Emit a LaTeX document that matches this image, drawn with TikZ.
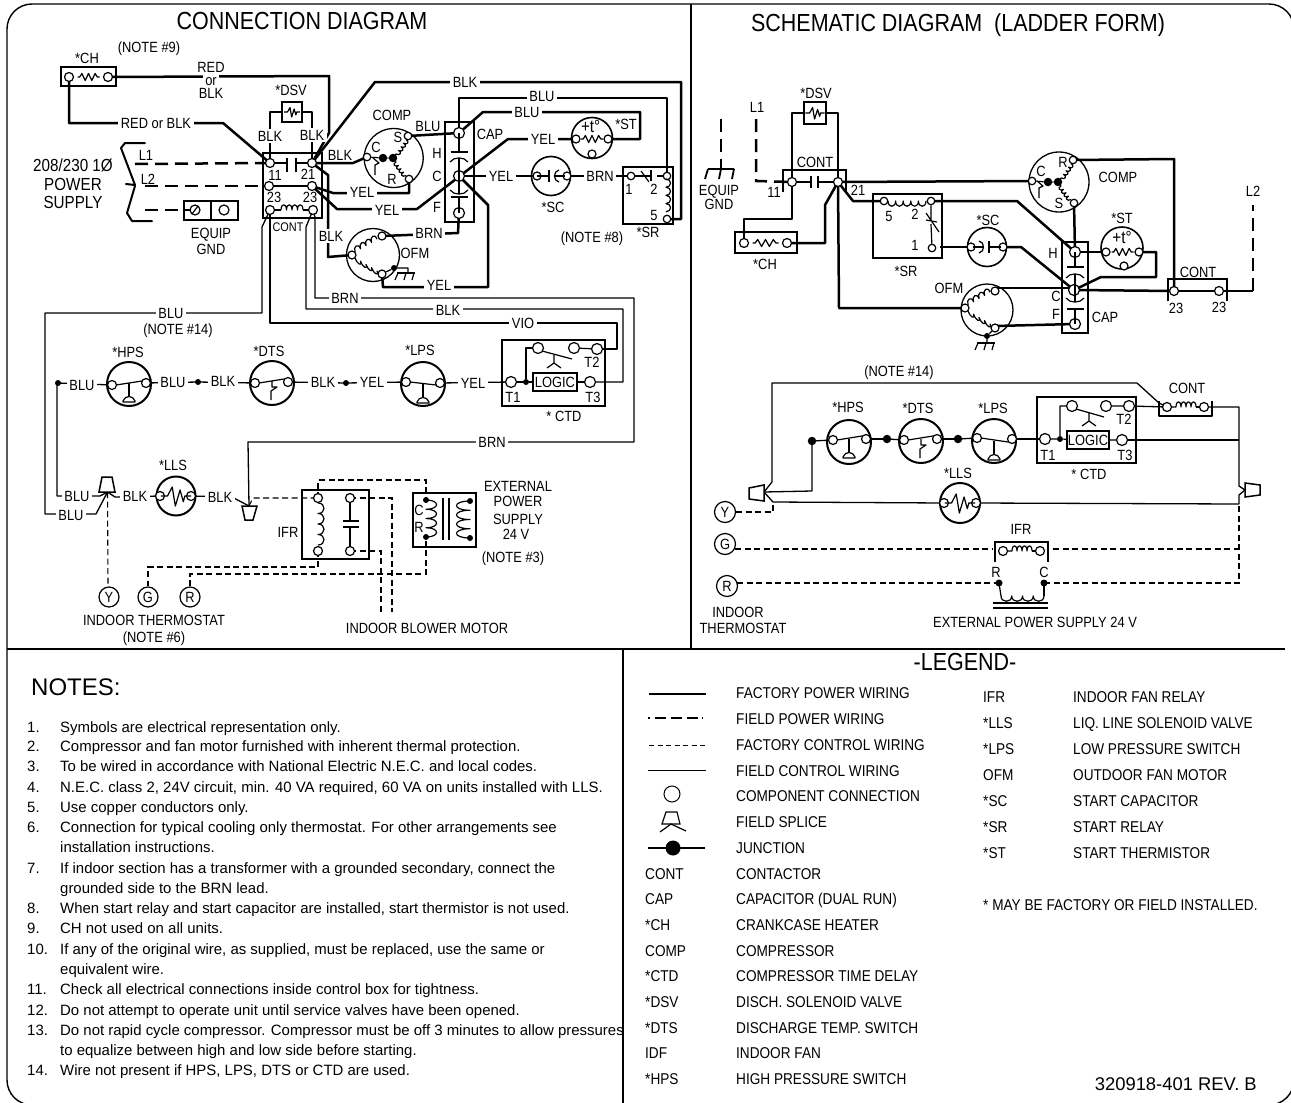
\documentclass[tikz,border=0pt]{standalone}
\usepackage{fontspec}
\setmainfont{Liberation Sans}[FakeStretch=0.87]
\newfontfamily\plainf{Liberation Sans}
\pgfdeclarelayer{wires}
\pgfsetlayers{wires,main}
\newcount\tncount
\newcommand\szf[1]{\fontsize{#1}{#1}\selectfont}
\tikzset{
 pw/.style={line width=2.5pt,line join=round},
 fp/.style={line width=2.5pt,dash pattern=on 13pt off 7pt},
 tw/.style={line width=1.3pt,line join=round},
 cd/.style={line width=1.1pt,dash pattern=on 6pt off 3.5pt},
 sym/.style={line width=1.2pt,line join=round},
 box/.style={line width=2pt},
 tbase/.style={inner sep=0pt,font=\szf{14.8},text height=10.5pt,text depth=0pt,align=center},
 wlb/.style={tbase,fill=white,inner xsep=2.5pt,inner ysep=1.5pt},
 lgd/.style={inner sep=0pt,font=\szf{15.65},text height=11pt,text depth=0pt,anchor=west},
 nte/.style={inner sep=0pt,font=\plainf\szf{14.95},text height=11pt,text depth=0pt,anchor=west},
 term/.style={circle,draw,fill=white,inner sep=0pt,minimum size=9pt,line width=1.2pt},
 bterm/.style={term,minimum size=11pt},
 sterm/.style={term,minimum size=7pt},
 jct/.style={circle,fill=black,inner sep=0pt,minimum size=6pt},
 bjct/.style={circle,fill=black,inner sep=0pt,minimum size=8.5pt},
 dial/.style={circle,draw,inner sep=0pt,line width=2pt},
 tstat/.style={circle,draw,inner sep=0pt,minimum size=20pt,line width=1.2pt,font=\szf{14.8},text height=10.5pt,text depth=0pt},
 splice/.style={draw,fill=white,line width=1.5pt},
 zz/.pic={\draw[sym] (-10,0)--(-8,0)--(-6,-3.5)--(-3,3.5)--(0,-3.5)--(3,3.5)--(6,-3.5)--(8,0)--(10,0);},
 pulse/.pic={\draw[sym] (-16,0)--(-9,0)--(-4,-9)--(-0.7,10)--(4.3,-6)--(7.7,5.7)--(9.3,0)--(16,0);},
 presssw/.pic={\draw[sym] (0,0)--(0,14);\draw[sym] (-6,19)--(6,19)--(6,18) .. controls (4,12) and (-4,12) .. (-6,18)--cycle;},
 tempsw/.pic={\draw[sym] (0,0)--(0,6)--(5,6)--(-1,10)--(-1,19);},
 scap/.pic={\draw[sym] (-14,0)--(-2,0);\draw[sym] (-2,-6)--(-2,6);\draw[sym] (8,-6) .. controls (2,-5) and (2,5) .. (8,6);\draw[sym] (3.5,0)--(14,0);},
 gnd/.pic={\draw[sym] (-9,0)--(9,0);\draw[sym] (-8,0)--(-11,7);\draw[sym] (0,0)--(-2,7);\draw[sym] (8,0)--(6,7);},
 thermo/.pic={\draw[sym] (0,0)--(6,5)--(2,7)--(2,17);},
}
\newcommand\tlab[2]{\global\advance\tncount by 1 \node[tbase] (t\the\tncount) at (#1) {#2};}
\newcommand\wlab[2]{\global\advance\tncount by 1 \node[wlb] (t\the\tncount) at (#1) {#2};}
\newcommand\llab[2]{\global\advance\tncount by 1 \node[lgd] (t\the\tncount) at (#1) {#2};}
\newcommand\bumps[3]{\foreach \bi in {1,...,#1} { .. controls +(#3) and +(#3) .. ++(#2) }}
\newcommand\dualcap[7]{%
 \draw[sym] (#1-8.5,#3)--(#1+8.5,#3);
 \draw[sym] (#1-9,#4+4) .. controls (#1-5,#4-1.5) and (#1+5,#4-1.5) .. (#1+9,#4+4);
 \draw[sym] (#1-9,#5-4) .. controls (#1-5,#5+1.5) and (#1+5,#5+1.5) .. (#1+9,#5-4);
 \draw[sym] (#1-8.5,#6)--(#1+8.5,#6);
 \draw[sym] (#1,#2)--(#1,#3);
 \draw[sym] (#1,#4)--(#1,#5);
 \draw[sym] (#1,#6)--(#1,#7);
}
\begin{document}
\begin{tikzpicture}[x=1pt,y=-1pt,line cap=butt]
\useasboundingbox (0,0) rectangle (1291,1103);
% ----- frame
\draw[line width=1.4pt,rounded corners=25pt] (7,4) rectangle (1294,1105);
\draw[line width=1.4pt] (691,4)--(691,649);
\draw[line width=1.4pt] (7,649)--(1285,649);
\draw[line width=1.4pt] (623,649)--(623,1104);
\global\advance\tncount by 1 \node[inner sep=0pt,font=\szf{24.7}] (t\the\tncount) at (302,21) {CONNECTION DIAGRAM};
\global\advance\tncount by 1 \node[inner sep=0pt,font=\szf{24.7}] (t\the\tncount) at (958,25) {SCHEMATIC DIAGRAM\ \ (LADDER FORM)};

% ===== CONNECTION DIAGRAM: terminals
\node[term] (chA) at (69,77) {};
\node[term] (chB) at (108,77) {};
\draw[box] (61,67) rectangle (116,86);
\pic[xscale=1.1] at (88.5,77) {zz};
\node[term] (c11) at (270,163) {};
\node[term] (c21) at (312,163) {};
\node[term] (c23L) at (269,186) {};
\node[term] (c23R) at (312,186) {};
\node[term] (cA) at (270,210) {};
\node[term] (cB) at (313,210) {};
\draw[box] (263,153) rectangle (322,218);
\node[draw,line width=1.6pt,minimum size=20pt,inner sep=0pt] (dsv) at (292,112) {};
\pic[scale=.5] at (292,112) {pulse};
\node[term,minimum size=10pt] (eg1) at (195,210) {};
\node[term,minimum size=10pt] (eg2) at (224,210) {};
\draw[sym] (192,214)--(198,206);
\draw[box] (184,201) rectangle (238,220);
\draw[sym] (211,201)--(211,220);
\coordinate (l1s) at (135,164);
\coordinate (l2s) at (145,186);
\coordinate (egs) at (145,210);

\node[dial,minimum size=59pt,line width=1.3pt] (comp) at (393.7,158) {};
\node[term,minimum size=7.5pt] (compS) at (408,136) {};
\node[term,minimum size=7.5pt] (compC) at (367,157) {};
\node[term,minimum size=7.5pt] (compR) at (409,179) {};
\node[bjct] (cd1) at (383,158) {};
\node[bjct] (cd2) at (393,158) {};
\draw[sym] (compC)--(cd1) (cd1)--(cd2);
\pic at (373,158) {thermo};
\draw[sym] (cd2.center)--(396,154) \bumps{4}{2.5,-3.6}{4,2} ;
\draw[sym] (cd2.center)--(396,162) \bumps{4}{2.5,3.4}{-4,2} ;

\node[bterm] (capH) at (459,133) {};
\node[bterm] (capC) at (459,176) {};
\node[bterm] (capF) at (459,213) {};
\draw[line width=1.6pt] (445,122) rectangle (474,222);
\dualcap{459}{133}{152}{158}{194}{197}{213}

\node[dial,minimum size=39pt,line width=1.6pt] (sc) at (551,176) {};
\node[term,minimum size=8pt] (scA) at (537,176) {};
\node[term,minimum size=8pt] (scB) at (567,176) {};
\pic at (551,176) {scap};

\node[dial,minimum size=41pt,line width=1.6pt] (st) at (592,138) {};
\node[term,minimum size=8pt] (stL) at (576,139) {};
\node[term,minimum size=8pt] (stR) at (608,139) {};
\node[term,minimum size=8pt] (stB) at (592,154) {};
\pic[xscale=1.1] at (592,139) {zz};

\node[term,minimum size=7.5pt] (sr1) at (631,176) {};
\node[term,minimum size=7.5pt] (sr2) at (667,176) {};
\node[term,minimum size=7.5pt] (sr5) at (667,219) {};
\draw[line width=1.6pt] (623,167) rectangle (673,224);
\draw[sym] (sr1)--(651,176) (657,176)--(sr2);
\draw[sym] (641,171)--(649,182);
\draw[sym] (651,170)--(651,181);
\draw[sym] (sr2) ++(-1,3) \bumps{4}{0,8.2}{6,0};

\node[dial,minimum size=53pt,line width=1.3pt] (ofm) at (373,255) {};
\node[term,minimum size=8pt] (ofmL) at (352,255) {};
\node[term,minimum size=8pt] (ofmT) at (382,236) {};
\node[term,minimum size=8pt] (ofmB) at (382,274) {};
\draw[sym] (ofmL.center) ++(3,-3) \bumps{4}{5.5,-3.2}{-2,-6};
\draw[sym] (ofmL.center) ++(3,3) \bumps{4}{5.5,3.2}{2,6};
\node[jct] (ofmD) at (394,268) {};
\draw[sym] (ofmB)--(ofmD) (ofmD)--(408,268)--(408,273);
\pic at (406,273) {gnd};

\node[dial,minimum size=44pt] (hps) at (129,384) {};
\node[term] (hpsL) at (112,385) {};
\node[term] (hpsR) at (146,383) {};
\draw[sym] (116,385)--(142,381);
\pic at (129,383) {presssw};
\node[dial,minimum size=44pt] (dts) at (272,383) {};
\node[term] (dtsL) at (255,383) {};
\node[term] (dtsR) at (288,382) {};
\draw[sym] (259,383)--(284,379);
\pic at (272,381) {tempsw};
\node[dial,minimum size=44pt] (lps) at (423,384) {};
\node[term] (lpsL) at (406,382) {};
\node[term] (lpsR) at (440,383) {};
\draw[sym] (410,382)--(436,385);
\pic at (423,384) {presssw};
\node[jct] (j1) at (58,383) {};
\node[jct] (j2) at (198,382) {};
\node[jct] (j3) at (346,383) {};

\draw[box] (502,340) rectangle (605,406);
\node[bterm] (t1) at (511,382) {};
\node[jct] (j4) at (526,382) {};
\node[draw,line width=1.2pt,minimum width=44pt,minimum height=18pt,inner sep=0pt,font=\szf{14.8}] (logic) at (555,382) {LOGIC};
\node[bterm] (t3) at (590,382) {};
\node[bterm] (ctc1) at (538,348) {};
\node[bterm] (ctc2) at (574,348) {};
\node[bterm] (t2) at (597,349) {};
\draw[sym] (t1)--(j4) (j4)--(logic) (logic)--(t3) (j4)--(526,348)--(ctc1);
\draw[sym] (ctc2)--(t2) (542,351)--(572,359);
\draw[sym] (554,355)--(554,363) (547,368)--(554,363)--(561,368);

\node[dial,minimum size=39pt] (lls) at (176,496) {};
\node[term] (llsL) at (160,496) {};
\node[term] (llsR) at (191,496) {};
\pic[xscale=.95] at (176,496) {pulse};

\draw[box] (302,490) rectangle (369,559);
\node[term] (ifC1) at (318,498) {};
\node[term] (ifC2) at (318,551) {};
\node[term] (ifK1) at (350,498) {};
\node[term] (ifK2) at (350,551) {};
\draw[sym] (318,503) \bumps{4}{0,10.5}{8,0};
\draw[sym] (ifK1)--(350,521) (343,521)--(359,521) (343,527)--(359,527) (350,527)--(ifK2);
\draw[box] (413,493) rectangle (476,547);
\node[jct] (tfC) at (426,500) {};
\node[jct] (tfR) at (426,537) {};
\node[jct] (tfA) at (470,501) {};
\node[jct] (tfB) at (470,538) {};
\draw[sym] (tfC.center) \bumps{4}{0,9.25}{14,0};
\draw[sym] (tfA.center) \bumps{4}{0,9.25}{-18,0};
\draw[sym] (443,498)--(443,540) (449,498)--(449,540);

\node[tstat] (y1) at (109,597) {Y};
\node[tstat] (g1) at (148,597) {G};
\node[tstat] (r1) at (190,597) {R};

\coordinate (sp1) at (107.5,492);
\coordinate (sp2) at (249,506);

% ===== CONNECTION wires (below the terminals)
\begin{pgfonlayer}{wires}
\draw[pw] (chA.center)--(69,123)--(223,123)--(c11.center);
\draw[pw] (chB.center)--(329,76)--(329,133)--(c21.center);
\draw[pw] (c11.center)|-(dsv.west);
\draw[pw] (c21.center)|-(dsv.east);
\draw[pw] (c21.center)--(375,82)--(681,82)--(681,219)--(sr5.center);
\draw[pw] (c21.center)--(353,163)--(compC.center);
\draw[pw] (c21.center)--(328,175)--(328,257)--(ofmL.center);
\draw[pw] (c23R.center)--(333,193)--(409,193)--(compR.center);
\draw[pw] (c23R.center)--(337,209)--(417,209)--(508,139)--(stL.center);
\draw[pw] (capH.center)--(459,98)--(667,98)--(sr2.center);
\draw[pw] (capH.center)--(483,112)--(640,112)--(640,139)--(stR.center);
\draw[pw] (compS.center)--(capH.center);
\draw[pw] (capC.center)--(scA.center);
\draw[pw] (scB.center)--(sr1.center);
\draw[pw] (capC.center)--(488,205)--(488,287)--(383,287)--(ofmB.center);
\draw[pw] (ofmT.center)--(458,233)--(capF.center);
\draw[fp] (l1s)--(c11.center);
\draw[fp] (l2s)--(c23L.center);
\draw[fp] (egs)--(eg1.center);
\draw[sym] (c23L.center)--(c23R.center);
\draw[sym] (c11.center)--(287,163) (287,158)--(287,172) (296,158)--(296,172) (296,163)--(c21.center);
\draw[sym] (cA.center)--(281,210);
\draw[sym] (281,210) \bumps{4}{5.5,0}{0,-7};
\draw[sym] (303,210)--(cB.center);
\draw[tw] (cA.center)--(262,227)--(262,313)--(45,313)--(45,514)--(96,514)--(sp1);
\draw[tw] (cA.center)--(270,222)--(270,323)--(617,323)--(617,349)--(t2.center);
\draw[tw] (cB.center)--(306,227)--(306,309)--(623,309)--(623,382)--(t3.center);
\draw[tw] (cB.center)--(315,217)--(315,298)--(634,298)--(634,442)--(248,442)--(sp2);
\draw[tw] (j1.center)--(57,383)--(57,496)--(100,496)--(sp1);
\draw[tw] (j1.center)--(hpsL.center);
\draw[tw] (hpsR.center)--(j2.center);
\draw[tw] (j2.center)--(dtsL.center);
\draw[tw] (dtsR.center)--(j3.center);
\draw[tw] (j3.center)--(lpsL.center);
\draw[tw] (lpsR.center)--(t1.center);
\draw[tw] (sp1)--(115,497)--(llsL.center);
\draw[tw] (llsR.center)--(232,497)--(sp2);
\draw[cd] (sp1)--(108,587);
\draw[cd] (sp2)--(253,498)--(ifC1.center);
\draw[cd] (ifC1.center)--(318,480)--(426,480)--(tfC.center);
\draw[cd] (ifK1.center)--(392,498)--(392,612);
\draw[cd] (ifK2.center)--(381,551)--(381,612);
\draw[cd] (ifC2.center)--(318,567)--(148,567)--(g1.north);
\draw[cd] (r1.north)--(190,574)--(426,574)--(tfR.center);
\end{pgfonlayer}
\draw[splice] (102,477)--(112,477)--(115,492)--(99,492)--cycle;
\draw[splice] (242,506)--(257,506)--(253,520)--(245,520)--cycle;
\draw[line width=2pt,line cap=round,line join=round] (145,143)--(125,143)--(121,148)--(135,185)--(126,184);
\draw[line width=2pt,line cap=round,line join=round] (135,186)--(127,213)--(132,221)--(152,221);

% ----- CONNECTION labels
\tlab{87,58}{*CH}
\tlab{149,47}{(NOTE \#9)}
\wlab{211,67}{RED}\wlab{211,80}{or}\wlab{211,93}{BLK}
\wlab{156,123}{RED or BLK}
\tlab{291,90}{*DSV}
\wlab{270,136}{BLK}\wlab{312,135}{BLK}
\tlab{146,155}{L1}\tlab{148,179}{L2}
\global\advance\tncount by 1 \node[inner sep=0pt,font=\szf{17.5}] (t\the\tncount) at (73,165) {208/230 1Ø};
\global\advance\tncount by 1 \node[inner sep=0pt,font=\szf{17.5}] (t\the\tncount) at (73,184) {POWER};
\global\advance\tncount by 1 \node[inner sep=0pt,font=\szf{17.5}] (t\the\tncount) at (73,202) {SUPPLY};
\tlab{211,233}{EQUIP}\tlab{211,249}{GND}
\tlab{275,175}{11}\tlab{308,174}{21}\tlab{274,197}{23}\tlab{310,197}{23}
\global\advance\tncount by 1 \node[tbase,font=\szf{12.5},text height=9pt] (t\the\tncount) at (288,227) {CONT};
\tlab{340,155}{BLK}
\wlab{362,192}{YEL}\wlab{387,210}{YEL}
\wlab{465,82}{BLK}\wlab{542,96}{BLU}\wlab{527,112}{BLU}
\tlab{392,115}{COMP}\tlab{398,137}{S}\tlab{376,147}{C}\tlab{392,179}{R}
\tlab{428,126}{BLU}\tlab{490,134}{CAP}
\tlab{437,153}{H}\tlab{437,176}{C}\tlab{437,207}{F}
\wlab{543,139}{YEL}\wlab{501,176}{YEL}\wlab{600,176}{BRN}
\global\advance\tncount by 1 \node[inner sep=0pt,font=\szf{17.5}] (t\the\tncount) at (590.7,126) {+t°};
\tlab{626,124}{*ST}
\tlab{553,207}{*SC}
\tlab{629,189}{1}\tlab{654,189}{2}\tlab{654,215}{5}\tlab{648,232}{*SR}
\tlab{592,237}{(NOTE \#8)}
\wlab{331,236}{BLK}
\wlab{429,233}{BRN}\wlab{439,285}{YEL}
\tlab{415,253}{OFM}
\wlab{345,298}{BRN}\wlab{448,310}{BLK}\wlab{523,323}{VIO}
\wlab{171,313}{BLU}\tlab{178,329}{(NOTE \#14)}
\tlab{128,352}{*HPS}\tlab{269,351}{*DTS}\tlab{420,350}{*LPS}
\wlab{82,385}{BLU}\wlab{173,382}{BLU}\wlab{223,381}{BLK}\wlab{323,382}{BLK}\wlab{372,382}{YEL}\wlab{473,383}{YEL}
\tlab{592,362}{T2}\tlab{513,397}{T1}\tlab{593,397}{T3}\tlab{564,416}{* CTD}
\wlab{492,442}{BRN}
\tlab{173,465}{*LLS}
\wlab{77,496}{BLU}\wlab{71,515}{BLU}\wlab{135,496}{BLK}\wlab{220,497}{BLK}
\tlab{288,532}{IFR}
\tlab{419,510}{C}\tlab{419,527}{R}
\tlab{518,486}{EXTERNAL}\tlab{518,501}{POWER}\tlab{518,519}{SUPPLY}\tlab{516,534}{24 V}
\tlab{513,557}{(NOTE \#3)}
\tlab{154,620}{INDOOR THERMOSTAT}\tlab{154,637}{(NOTE \#6)}
\tlab{427,628}{INDOOR BLOWER MOTOR}

% ===== SCHEMATIC
\node[draw,line width=1.6pt,minimum size=22pt,inner sep=0pt] (sdsv) at (815,113) {};
\pic[scale=.6] at (815,113) {pulse};
\node[term] (s11) at (792,182) {};
\node[term] (s21) at (838,182) {};
\draw[line width=1.6pt] (783,192)--(783,170)--(846,170)--(846,192);
\draw[sym] (s11)--(811,182) (811,176)--(811,188) (818,176)--(818,188) (818,182)--(s21);
\node[term] (schA) at (744,243) {};
\node[term] (schB) at (787,243) {};
\draw[box] (735,232) rectangle (797,253);
\pic[xscale=1.3] at (765.5,243) {zz};

\draw[line width=1.2pt] (873,194) rectangle (942,258);
\node[term,minimum size=7.5pt] (srs5) at (884,201) {};
\node[term,minimum size=7.5pt] (srs2) at (931,201) {};
\node[term,minimum size=7.5pt] (srs1) at (932,248) {};
\draw[sym] (888,201) \bumps{5}{7.6,0}{0,7};
\draw[sym] (srs2)--(931,221) (926,220)--(937,222) (926,213)--(939,232) (931,224)--(srs1);
\coordinate (srs1e) at (940,247);

\node[dial,minimum size=60pt,line width=1.3pt] (scomp) at (1059,182) {};
\node[term,minimum size=7.5pt] (scompC) at (1032,181) {};
\node[term,minimum size=7.5pt] (scompR) at (1073,160) {};
\node[term,minimum size=7.5pt] (scompS) at (1074,203) {};
\node[bjct] (sd1) at (1048,182) {};
\node[bjct] (sd2) at (1058,182) {};
\draw[sym] (scompC)--(sd1) (sd1)--(sd2);
\pic at (1037,181) {thermo};
\draw[sym] (sd2.center)--(1061,178) \bumps{4}{2.5,-3.6}{4,2} ;
\draw[sym] (sd2.center)--(1061,186) \bumps{4}{2.5,3.4}{-4,2} ;

\node[dial,minimum size=39pt,line width=1.6pt] (ssc) at (987,247) {};
\node[term,minimum size=8pt] (sscA) at (971,247) {};
\node[term,minimum size=8pt] (sscB) at (1003,247) {};
\pic[xscale=-1] at (987,247) {scap};

\node[dial,minimum size=52pt,line width=1.3pt] (sofm) at (987,310) {};
\node[term,minimum size=8pt] (sofmL) at (965,308) {};
\node[term,minimum size=8pt] (sofmT) at (995,291) {};
\node[term,minimum size=8pt] (sofmB) at (995,328) {};
\draw[sym] (sofmL.center) ++(3,-3) \bumps{4}{5.5,-3.2}{-2,-6};
\draw[sym] (sofmL.center) ++(3,3) \bumps{4}{5.5,3.2}{2,6};
\node[jct] (sofmD) at (987,336) {};
\draw[sym] (sofmB)--(sofmD) (sofmD)--(987,343);
\pic at (986,343) {gnd};

\node[bterm] (scapH) at (1075,252) {};
\node[bterm] (scapC) at (1074,290) {};
\node[bterm] (scapF) at (1075,324) {};
\draw[line width=1.6pt] (1062,242) rectangle (1088,333);
\dualcap{1075}{252}{267}{274}{302}{309}{324}

\node[dial,minimum size=42pt,line width=1.6pt] (sst) at (1122,248) {};
\node[term,minimum size=8pt] (sstL) at (1106,252) {};
\node[term,minimum size=8pt] (sstR) at (1139,252) {};
\node[term,minimum size=8pt] (sstB) at (1124,266) {};
\pic[xscale=1.1] at (1122.5,252) {zz};

\node[term] (k1) at (1174,291) {};
\node[term] (k2) at (1219,291) {};
\draw[line width=1.6pt] (1168,301)--(1168,279)--(1227,279)--(1227,301);
\draw[sym] (k1)--(k2);
\coordinate (l2e) at (1253,205);
\coordinate (l1e) at (756,119);
\coordinate (gnde) at (721,119);
\coordinate (gndp) at (721,169);

\draw[sym,line width=1.8pt] (708,169)--(734,169) (708,169)--(705,179) (721,169)--(719,179) (734,169)--(732,179);

% lower schematic
\node[dial,minimum size=44pt] (shps) at (849,442) {};
\node[term] (shpsL) at (833,440) {};
\node[term] (shpsR) at (866,439) {};
\draw[sym] (837,440)--(862,436);
\pic at (849,439) {presssw};
\node[dial,minimum size=44pt] (sdts) at (921,441) {};
\node[term] (sdtsL) at (904,440) {};
\node[term] (sdtsR) at (937,439) {};
\draw[sym] (908,440)--(933,436);
\pic at (921,439) {tempsw};
\node[dial,minimum size=44pt] (slps) at (994,441) {};
\node[term] (slpsL) at (977,438) {};
\node[term] (slpsR) at (1012,439) {};
\draw[sym] (981,438)--(1008,442);
\pic at (994,441) {presssw};
\node[bjct] (sj1) at (812,441) {};
\node[bjct] (sj2) at (887,439) {};
\node[bjct] (sj3) at (958,439) {};

\draw[box] (1037,397) rectangle (1136,463);
\node[bterm] (st1) at (1045,439) {};
\node[jct] (sj4) at (1060,439) {};
\node[draw,line width=1.2pt,minimum width=42pt,minimum height=18pt,inner sep=0pt,font=\szf{14.8}] (slogic) at (1088,440) {LOGIC};
\node[bterm] (st3) at (1122,440) {};
\node[bterm] (sctc1) at (1072,406) {};
\node[bterm] (sctc2) at (1106,406) {};
\node[bterm] (st2) at (1129,406) {};
\draw[sym] (st1)--(sj4) (sj4)--(slogic) (slogic)--(st3) (sj4)--(1060,406)--(sctc1);
\draw[sym] (sctc2)--(st2) (1076,409)--(1104,417);
\draw[sym] (1089,412)--(1089,421) (1082,426)--(1089,421)--(1096,426);

\node[term] (ck1) at (1167,407) {};
\node[term] (ck2) at (1204,407) {};
\draw[sym] (ck1)--(1176,407) \bumps{4}{5,0}{0,-7};
\draw[sym] (1196,407)--(ck2);
\draw[sym] (1159,401)--(1159,416)--(1212,416)--(1212,401);
\draw[line width=2pt] (1170,416)--(1200,416);

\node[dial,minimum size=40pt] (slls) at (960,503) {};
\node[term] (sllsL) at (944,503) {};
\node[term] (sllsR) at (976,503) {};
\pic[xscale=.95] at (960,503) {pulse};

\node[tstat,minimum size=21pt] (y2) at (725,512) {Y};
\node[tstat,minimum size=21pt] (g2) at (725,544) {G};
\node[tstat,minimum size=21pt] (r2) at (727,586) {R};

\node[term] (si1) at (1003,551) {};
\node[term] (si2) at (1040,551) {};
\draw[sym] (si1)--(1012,551) \bumps{4}{5,0}{0,-7};
\draw[sym] (1032,551)--(si2);
\draw[line width=1.8pt] (995,562)--(995,542)--(1048,542)--(1048,562);
\node[jct,minimum size=7pt] (sr) at (999,583) {};
\node[jct,minimum size=7pt] (sc2) at (1044,583) {};
\draw[sym] (sr.center)--(1001,596);
\draw[sym] (1001,596) \bumps{4}{10.75,0}{0,7};
\draw[sym] (1044,596)--(sc2.center);
\draw[sym] (993,603)--(1048,603) (993,608)--(1048,608);

\coordinate (spl) at (764,492);
\coordinate (spr) at (1245,490);
\coordinate (gs) at (735,549);
\coordinate (rs) at (737,583);

\begin{pgfonlayer}{wires}
\draw[pw] (s11.center)|-(sdsv.west);
\draw[pw] (s21.center)|-(sdsv.east);
\draw[pw] (s11.center)--(792,219)--(744,219)--(schA.center);
\draw[pw] (schB.center)--(825,243)--(825,205)--(s21.center);
\draw[pw] (s21.center)--(scompC.center);
\draw[pw] (s21.center)--(853,201)--(srs5.center);
\draw[pw] (s21.center)--(839,308)--(sofmL.center);
\draw[pw] (srs2.center)--(1017,201)--(scapH.center);
\draw[pw] (srs1e)--(sscA.center);
\draw[pw] (sscB.center)--(1021,247)--(scapC.center);
\draw[pw] (scompS.center)--(scapH.center);
\draw[pw] (scapH.center)--(sstL.center);
\draw[pw] (sstR.center)--(1156,252)--(1156,277)--(1101,277)--(scapC.center);
\draw[pw] (sofmT.center)--(995,288)--(1074,288)--(scapC.center);
\draw[pw] (sofmB.center)--(995,326)--(scapF.center);
\draw[pw] (scapC.center)--(k1.center);
\draw[pw] (scompR.center)--(1174,159)--(k1.center);
\draw[pw] (k2.center)--(1253,291);
\draw[fp] (1253,291)--(l2e);
\draw[fp] (l1e)--(756,181)--(s11.center);
\draw[fp] (gnde)--(gndp);
\draw[tw] (spl)--(772,482)--(772,383)--(1137,383)--(1159,403)--(ck1.center);
\draw[tw] (spl)--(812,491)--(sj1.center);
\draw[tw] (sj1.center)--(shpsL.center);
\draw[tw] (shpsR.center)--(sj2.center);
\draw[tw] (sj2.center)--(sdtsL.center);
\draw[tw] (sdtsR.center)--(sj3.center);
\draw[tw] (sj3.center)--(slpsL.center);
\draw[tw] (slpsR.center)--(st1.center);
\draw[tw] (st2.center)--(ck1.center);
\draw[tw] (ck2.center)--(1239,407)--(1239,486)--(spr);
\draw[tw] (st3.center)--(1239,440);
\draw[tw] (spr)--(1239,495)--(1239,504);
\draw[tw] (spl)--(773,502)--(sllsL.center);
\draw[tw] (sllsR.center)--(1239,504);
\draw[cd] (y2.east)--(773,512)--(773,503);
\draw[cd] (gs)--(993,549);
\draw[cd] (1053,549)--(1239,549);
\draw[cd] (rs)--(sr.center);
\draw[cd] (sc2.center)--(1239,583)--(1239,504);
\end{pgfonlayer}
\draw[splice] (749,488)--(764,485)--(764,501)--(749,499)--cycle;
\draw[splice] (1245,483)--(1260,485)--(1260,495)--(1245,497)--cycle;

% ----- SCHEMATIC labels
\tlab{816,93}{*DSV}\tlab{757,107}{L1}
\tlab{815,162}{CONT}\tlab{774,192}{11}\tlab{858,190}{21}
\tlab{719,190}{EQUIP}\tlab{719,204}{GND}
\tlab{765,264}{*CH}
\tlab{889,216}{5}\tlab{915,214}{2}\tlab{915,245}{1}\tlab{906,271}{*SR}
\tlab{988,220}{*SC}\tlab{949,288}{OFM}
\tlab{1041,171}{C}\tlab{1063,162}{R}\tlab{1059,203}{S}\tlab{1118,177}{COMP}
\tlab{1122,218}{*ST}
\global\advance\tncount by 1 \node[inner sep=0pt,font=\szf{17.5}] (t\the\tncount) at (1122,237) {+t°};
\tlab{1053,253}{H}\tlab{1056,296}{C}\tlab{1056,314}{F}\tlab{1105,317}{CAP}
\tlab{1198,272}{CONT}\tlab{1176,308}{23}\tlab{1219,307}{23}\tlab{1253,191}{L2}
\tlab{899,371}{(NOTE \#14)}
\tlab{848,407}{*HPS}\tlab{918,408}{*DTS}\tlab{993,408}{*LPS}
\tlab{1124,419}{T2}\tlab{1048,455}{T1}\tlab{1125,455}{T3}\tlab{1089,474}{* CTD}
\tlab{1187,388}{CONT}\tlab{958,473}{*LLS}\tlab{1021,529}{IFR}
\tlab{996,572}{R}\tlab{1044,572}{C}
\tlab{1035,622}{EXTERNAL POWER SUPPLY 24 V}
\tlab{738,612}{INDOOR}\tlab{743,628}{THERMOSTAT}

% ===== NOTES
\global\advance\tncount by 1 \node[inner sep=0pt,font=\plainf\szf{24},anchor=west] (t\the\tncount) at (31,687) {NOTES:};
\foreach \ny/\nn/\nt in {
 727/1./Symbols are electrical representation only.,
 746/2./Compressor and fan motor furnished with inherent thermal protection.,
 766/3./To be wired in accordance with National Electric N.E.C. and local codes.,
 787/4./{N.E.C. class 2, 24V circuit, min. 40 VA required, 60 VA on units installed with LLS.},
 807/5./Use copper conductors only.,
 827/6./Connection for typical cooling only thermostat. For other arrangements see,
 868/7./{If indoor section has a transformer with a grounded secondary, connect the},
 908/8./{When start relay and start capacitor are installed, start thermistor is not used.},
 928/9./CH not used on all units.,
 949/10./{If any of the original wire, as supplied, must be replaced, use the same or},
 989/11./Check all electrical connections inside control box for tightness.,
 1010/12./Do not attempt to operate unit until service valves have been opened.,
 1030/13./Do not rapid cycle compressor. Compressor must be off 3 minutes to allow pressures,
 1070/14./{Wire not present if HPS, LPS, DTS or CTD are used.}}
 {\node[nte] (nn\nn) at (27,\ny) {\nn}; \node[nte] (nt\nn) at (60,\ny) {\nt};}
\foreach \ny/\nt [count=\ni] in {847/installation instructions.,888/grounded side to the BRN lead.,969/equivalent wire.,1050/to equalize between high and low side before starting.}
 {\node[nte] (nc\ni) at (60,\ny) {\nt};}

% ===== LEGEND
\global\advance\tncount by 1 \node[inner sep=0pt,font=\szf{24.7}] (t\the\tncount) at (965,662) {-LEGEND-};
\coordinate (la) at (649,694);\coordinate (lb) at (706,694);
\draw[pw] (la)--(lb);
\draw[fp,line width=2.2pt,dash pattern=on 1.5pt off 5pt on 11pt off 5pt on 11pt off 5pt on 11pt off 4pt] (648,718)--(706,718);
\draw[line width=1pt,dash pattern=on 5pt off 3.5pt] (649,745)--(706,745);
\draw[line width=1pt] (648,770)--(706,770);
\node[circle,draw,inner sep=0pt,minimum size=16pt,line width=1pt] (lgc) at (672,794) {};
\draw[splice,line width=1.2pt,fill=none] (666,812)--(677,812)--(680,824)--(662,824)--cycle;
\draw[sym] (671,824)--(660,832) (671,824)--(686,831);
\node[bjct,minimum size=15pt] (lgj) at (673,848) {};
\draw[line width=1.2pt] (648,848)--(705,848);

\foreach \ty/\tt in {693/FACTORY POWER WIRING,719/FIELD POWER WIRING,745/FACTORY CONTROL WIRING,771/FIELD CONTROL WIRING,796/COMPONENT CONNECTION,822/FIELD SPLICE,848/JUNCTION,874/CONTACTOR,899/CAPACITOR (DUAL RUN),925/CRANKCASE HEATER,951/COMPRESSOR,976/COMPRESSOR TIME DELAY,1002/DISCH. SOLENOID VALVE,1028/DISCHARGE TEMP. SWITCH,1053/INDOOR FAN,1079/HIGH PRESSURE SWITCH}
 {\node[lgd] (le\ty) at (736,\ty) {\tt};}
\foreach \ty/\tt in {874/CONT,899/CAP,925/*CH,951/COMP,976/*CTD,1002/*DSV,1028/*DTS,1053/IDF,1079/*HPS}
 {\node[lgd] (lc\ty) at (645,\ty) {\tt};}
\foreach \ty/\ta/\tb in {697/IFR/INDOOR FAN RELAY,723/*LLS/LIQ. LINE SOLENOID VALVE,749/*LPS/LOW PRESSURE SWITCH,775/OFM/OUTDOOR FAN MOTOR,801/*SC/START CAPACITOR,827/*SR/START RELAY,853/*ST/START THERMISTOR}
 {\node[lgd] (rc\ty) at (983,\ty) {\ta}; \node[lgd] (rt\ty) at (1073,\ty) {\tb};}
\llab{983,905}{* MAY BE FACTORY OR FIELD INSTALLED.}
\global\advance\tncount by 1 \node[inner sep=0pt,font=\plainf\szf{18.4},anchor=east] (t\the\tncount) at (1257,1084) {320918-401 REV. B};
\end{tikzpicture}
\end{document}
